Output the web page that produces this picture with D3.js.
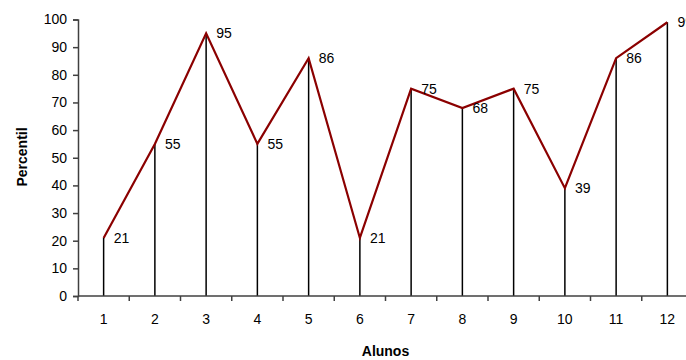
<!DOCTYPE html>
<html>
<head>
<meta charset="utf-8">
<script src="https://cdn.jsdelivr.net/npm/d3@7"></script>
<style>
  html, body { margin: 0; padding: 0; background: #fff; overflow: hidden; }
  svg { display: block; font-family: "Liberation Sans", Arial, sans-serif; }
</style>
</head>
<body>
<svg id="chart" width="686" height="360"></svg>
<script>
// Percentil por aluno
const alunos = ["1", "2", "3", "4", "5", "6", "7", "8", "9", "10", "11", "12"];
const percentis = [21, 55, 95, 55, 86, 21, 75, 68, 75, 39, 86, 99];
const yTicks = [0, 10, 20, 30, 40, 50, 60, 70, 80, 90, 100];

const svg = d3.select("#chart");
const plotLeft = 78, plotRight = 693, plotTop = 19.5, plotBottom = 296;

const x = d3.scaleBand().domain(alunos).range([plotLeft, plotRight]).padding(0);
const y = d3.scaleLinear().domain([0, 100]).range([plotBottom, plotTop]);
const cx = d => x(d) + x.bandwidth() / 2;

const axisColor = "#404040";

// Drop lines from each point to the axis
svg.append("g").selectAll("line")
  .data(alunos)
  .join("line")
  .attr("x1", d => cx(d)).attr("x2", d => cx(d))
  .attr("y1", (d, i) => y(percentis[i])).attr("y2", y(0))
  .attr("stroke", "#000").attr("stroke-width", 1.5);

// Y axis
const yAxis = svg.append("g")
  .attr("transform", `translate(${plotLeft},0)`)
  .call(d3.axisLeft(y).tickValues(yTicks).tickSize(5).tickPadding(6));
yAxis.select(".domain").attr("stroke", axisColor).attr("stroke-width", 1.5);
yAxis.selectAll(".tick line").attr("stroke", axisColor).attr("stroke-width", 1.5);
yAxis.selectAll(".tick text").attr("font-size", 14).attr("fill", "#000")
  .attr("font-family", "Liberation Sans, Arial, sans-serif");

// X axis: tick marks sit on band boundaries, labels at band centres
const xAxisG = svg.append("g").attr("transform", `translate(0,${plotBottom})`);
xAxisG.append("line")
  .attr("x1", plotLeft).attr("x2", plotRight)
  .attr("stroke", axisColor).attr("stroke-width", 1.5);
const boundaries = alunos.map(d => x(d)).concat([plotRight]);
xAxisG.selectAll("line.tk")
  .data(boundaries)
  .join("line").attr("class", "tk")
  .attr("x1", d => d).attr("x2", d => d)
  .attr("y1", 0).attr("y2", 5)
  .attr("stroke", axisColor).attr("stroke-width", 1.5);
xAxisG.selectAll("text")
  .data(alunos)
  .join("text")
  .attr("x", d => cx(d)).attr("y", 23)
  .attr("dy", "0.35em")
  .attr("text-anchor", "middle")
  .attr("font-size", 14).attr("fill", "#000")
  .text(d => d);

// Line
const line = d3.line().x((d, i) => cx(alunos[i])).y(d => y(d));
svg.append("path")
  .datum(percentis)
  .attr("d", line)
  .attr("fill", "none")
  .attr("stroke", "#8b0000")
  .attr("stroke-width", 2.2)
  .attr("stroke-linejoin", "miter");

// Value labels
svg.append("g").selectAll("text")
  .data(percentis)
  .join("text")
  .attr("x", (d, i) => cx(alunos[i]) + 10)
  .attr("y", d => y(d))
  .attr("dy", "0.35em")
  .attr("font-size", 14).attr("fill", "#000")
  .text(d => d);

// Axis titles
svg.append("text")
  .attr("x", (plotLeft + plotRight) / 2).attr("y", 351)
  .attr("dy", "0.35em")
  .attr("text-anchor", "middle")
  .attr("font-size", 14).attr("font-weight", "bold")
  .text("Alunos");

svg.append("text")
  .attr("transform", `translate(22,157) rotate(-90)`)
  .attr("dy", "0.35em")
  .attr("text-anchor", "middle")
  .attr("font-size", 14).attr("font-weight", "bold")
  .text("Percentil");
</script>
</body>
</html>
